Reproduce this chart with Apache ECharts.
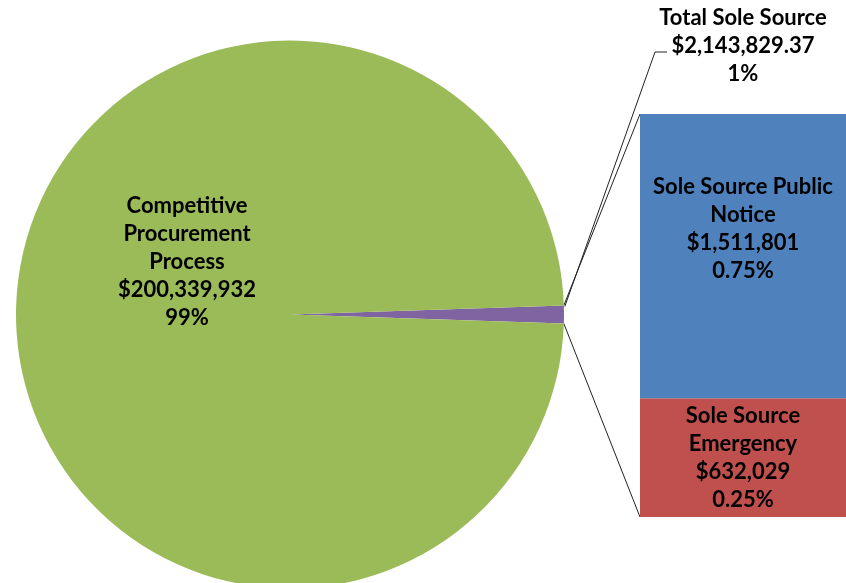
<!DOCTYPE html>
<html>
<head>
<meta charset="utf-8">
<script src="https://cdn.jsdelivr.net/npm/echarts@6/dist/echarts.min.js"></script>
<style>
html,body{margin:0;padding:0;background:#fff;}
#chart{width:846px;height:583px;}
</style>
</head>
<body>
<div id="chart"></div>
<script>
// ---- data ----
const pieNames = ['Total Sole Source', 'Competitive Procurement Process'];
const pieValues = [2143829.37, 200339932];
const pieValueLabels = ['$2,143,829.37', '$200,339,932'];
const pieShareLabels = ['1%', '99%'];

const barNames = ['Sole Source Emergency', 'Sole Source Public Notice'];
const barValues = [632029, 1511801];
const barValueLabels = ['$632,029', '$1,511,801'];
const barShareLabels = ['0.25%', '0.75%'];
const barTextNames = ['Sole Source\nEmergency', 'Sole Source Public\nNotice'];

// ---- layout ----
const W = 846, H = 583;
const cx = 290, cy = 314.5, R = 274;
const gridLeft = 640, gridTop = 114, gridBottom = 66;
const colors = { purple: '#8064A2', green: '#9BBB59', blue: '#4F81BD', red: '#C0504D' };
const font = { fontFamily: 'Lato', fontWeight: 'bold', fontSize: 22, lineHeight: 28, color: '#000' };

const total = pieValues[0] + pieValues[1];
const halfDeg = 360 * pieValues[0] / total / 2;
const halfRad = halfDeg * Math.PI / 180;
const edgeTop = [cx + R * Math.cos(halfRad), cy - R * Math.sin(halfRad)];
const edgeBot = [cx + R * Math.cos(halfRad), cy + R * Math.sin(halfRad)];
const barTopY = gridTop, barBotY = H - gridBottom;

const chart = echarts.init(document.getElementById('chart'), null, { renderer: 'canvas' });

const option = {
  animation: false,
  backgroundColor: '#fff',
  grid: { left: gridLeft, right: 0, top: gridTop, bottom: gridBottom },
  xAxis: { type: 'category', data: [''], show: false },
  yAxis: { type: 'value', min: 0, max: barValues[0] + barValues[1], show: false },
  graphic: [
    { type: 'line', silent: true, shape: { x1: edgeTop[0], y1: edgeTop[1], x2: gridLeft, y2: barTopY }, style: { stroke: '#222', lineWidth: 1 } },
    { type: 'line', silent: true, shape: { x1: edgeBot[0], y1: edgeBot[1], x2: gridLeft, y2: barBotY }, style: { stroke: '#222', lineWidth: 1 } }
  ],
  series: [
    {
      type: 'pie',
      center: [cx, cy],
      radius: [0, R],
      startAngle: halfDeg,
      clockwise: true,
      avoidLabelOverlap: false,
      silent: true,
      itemStyle: { borderWidth: 0 },
      data: pieNames.map((n, i) => ({
        name: n,
        value: pieValues[i],
        itemStyle: { color: i === 0 ? colors.purple : colors.green },
        label: {
          show: true,
          position: i === 0 ? 'outside' : 'inside',
          formatter: () => (i === 0 ? n : 'Competitive\nProcurement\nProcess') + '\n' + pieValueLabels[i] + '\n' + pieShareLabels[i],
          ...font
        },
        labelLine: { show: i === 0, lineStyle: { color: '#222', width: 1 } }
      })),
      labelLayout: function (p) {
        if (p.dataIndex === 0) {
          return {
            x: 743, y: 46, align: 'center', verticalAlign: 'middle',
            labelLinePoints: [[edgeTop[0] + 1, edgeTop[1] + 1], [655, 52], [667, 52]]
          };
        }
        return { x: 187, y: 262, align: 'center', verticalAlign: 'middle' };
      }
    },
    ...barNames.map((n, i) => ({
      type: 'bar',
      name: n,
      stack: 'ss',
      barWidth: '100%',
      silent: true,
      itemStyle: { color: i === 0 ? colors.red : colors.blue },
      label: {
        show: true,
        position: 'inside',
        offset: i === 0 ? [0, 0] : [0, -27],
        formatter: () => barTextNames[i] + '\n' + barValueLabels[i] + '\n' + barShareLabels[i],
        ...font
      },
      data: [barValues[i]]
    }))
  ]
};
chart.setOption(option);
</script>
</body>
</html>
